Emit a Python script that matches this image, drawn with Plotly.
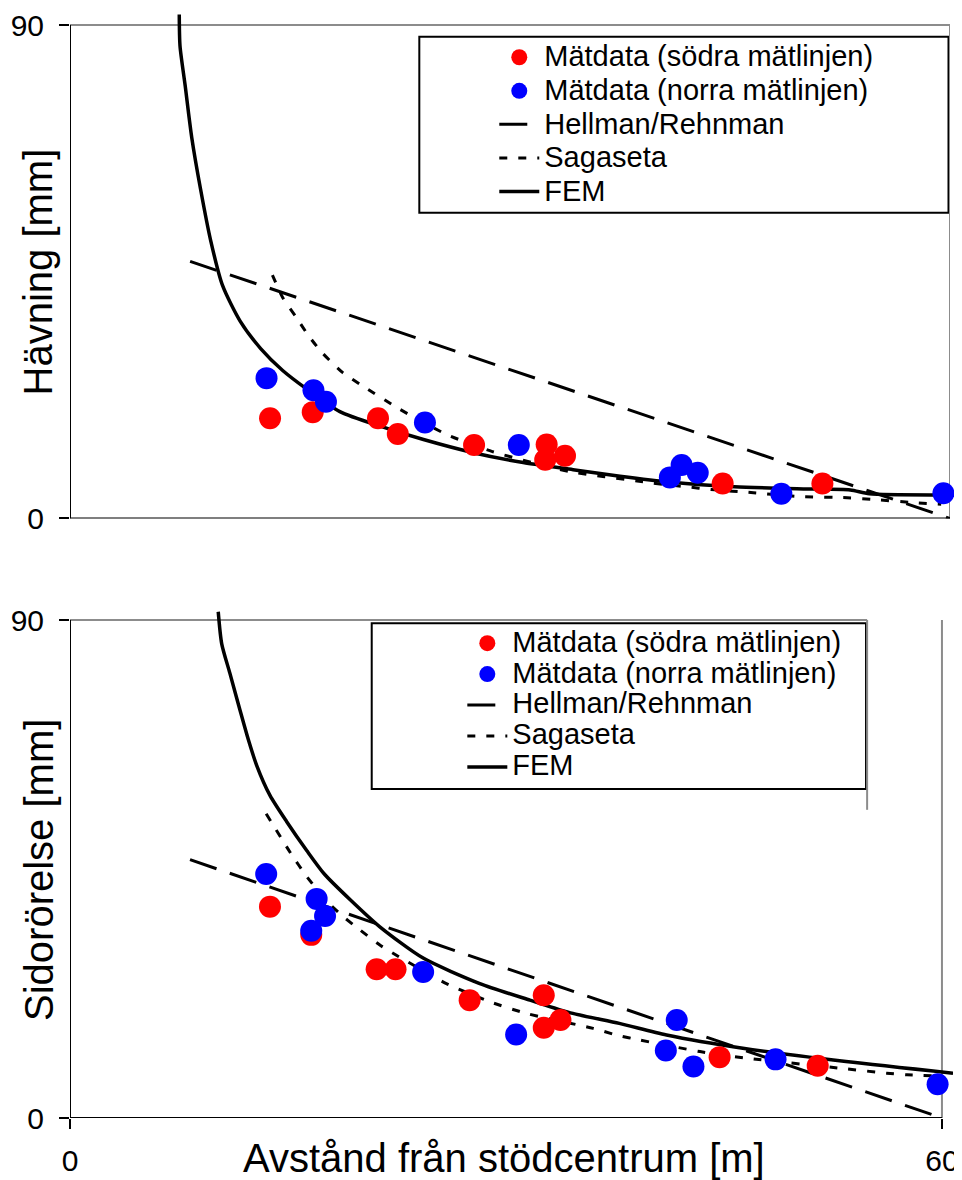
import plotly.graph_objects as go

FONT = "Liberation Sans, Arial, sans-serif"

# ---------------- Top panel: Hävning ----------------
top_red_x = [13.64, 16.55, 21.0, 22.35, 27.55, 32.5, 32.4, 33.75, 44.5, 51.3]
top_red_y = [18.3, 19.4, 18.3, 15.4, 13.4, 13.5, 10.7, 11.45, 6.4, 6.4]
top_blue_x = [13.4, 16.6, 17.45, 24.2, 30.6, 40.9, 41.7, 42.8, 48.5, 59.55]
top_blue_y = [25.6, 23.4, 21.3, 17.5, 13.4, 7.5, 9.75, 8.35, 4.5, 4.6]
top_hellman_x = [8.19, 60.0]
top_hellman_y = [46.9, 0.0]
top_sagaseta_x = [13.8, 14.5, 15.4, 16.3, 17.2, 18.6, 20.0, 22.5, 25.7, 28.8, 34.0,
                  39.1, 40.5, 42.0, 43.7, 46.6, 49.8, 53.0, 54.6, 57.5, 59.4]
top_sagaseta_y = [44.4, 40.3, 36.8, 33.2, 30.2, 26.6, 24.1, 19.9, 15.3, 12.2, 8.6,
                  6.7, 6.2, 5.8, 5.3, 4.7, 4.0, 3.8, 3.5, 2.9, 2.6]
top_fem_x = [7.45, 7.5, 7.85, 8.3, 8.9, 9.6, 10.4, 11.6, 13.0, 14.5, 16.2, 18.4, 21.2, 24.1,
             27.5, 30.9, 34.3, 37.5, 41.0, 45.3, 50.0, 53.2, 54.5, 60.0]
top_fem_y = [91.9, 86.2, 79.0, 69.5, 60.1, 50.6, 42.5, 36.0, 31.0, 27.0, 23.5, 19.5, 16.8, 14.4,
             12.0, 10.2, 8.9, 7.7, 6.6, 5.8, 5.4, 5.2, 4.5, 4.3]

# ---------------- Bottom panel: Sidorörelse ----------------
bot_red_x = [13.76, 16.6, 21.1, 22.4, 27.5, 32.6, 32.6, 33.75, 44.7, 51.45]
bot_red_y = [38.2, 33.1, 26.9, 26.9, 21.3, 22.2, 16.3, 17.7, 11.0, 9.45]
bot_blue_x = [13.5, 16.97, 17.55, 16.6, 24.3, 30.7, 41.0, 41.75, 42.9, 48.55, 59.7]
bot_blue_y = [44.1, 39.6, 36.5, 33.85, 26.4, 15.1, 12.2, 17.7, 9.3, 10.6, 6.1]
bot_hellman_x = [8.26, 59.4]
bot_hellman_y = [46.7, 0.54]
bot_sagaseta_x = [13.5, 15.2, 16.3, 17.7, 18.8, 19.95, 21.3, 22.6, 25.9, 28.9, 31.4, 36.0,
                  37.6, 39.2, 43.35, 46.6, 53.0, 56.2, 57.6, 60.0]
bot_sagaseta_y = [55.0, 47.8, 43.6, 39.1, 36.4, 34.0, 31.3, 29.2, 24.3, 21.0, 18.9, 16.2,
                  15.0, 14.1, 12.0, 10.8, 9.0, 8.1, 7.8, 7.6]
bot_fem_x = [10.2, 10.44, 11.0, 11.7, 12.27, 12.85, 13.76, 14.9, 16.3, 17.5, 19.3, 21.3,
             24.3, 28.2, 31.65, 34.6, 37.8, 41.05, 46.3, 53.4, 60.76]
bot_fem_y = [91.5, 85.7, 80.4, 73.7, 68.4, 63.7, 58.3, 53.6, 48.3, 44.1, 39.4, 34.6,
             28.9, 24.3, 21.3, 18.9, 17.1, 15.0, 12.6, 10.2, 8.1]

names = ["Mätdata (södra mätlinjen)", "Mätdata (norra mätlinjen)",
         "Hellman/Rehnman", "Sagaseta", "FEM"]
y_titles = ["Hävning [mm]", "Sidorörelse [mm]"]
x_title = "Avstånd från stödcentrum [m]"
y_ticks = [0, 90]
x_ticks = [0, 60]


def leg(name):
    return "<span style='font-size:29px'>" + name + "</span>"


fig = go.Figure()

panels = [
    dict(xa="x", ya="y", lg="legend",
         red=(top_red_x, top_red_y), blue=(top_blue_x, top_blue_y),
         hel=(top_hellman_x, top_hellman_y), sag=(top_sagaseta_x, top_sagaseta_y),
         fem=(top_fem_x, top_fem_y)),
    dict(xa="x2", ya="y2", lg="legend2",
         red=(bot_red_x, bot_red_y), blue=(bot_blue_x, bot_blue_y),
         hel=(bot_hellman_x, bot_hellman_y), sag=(bot_sagaseta_x, bot_sagaseta_y),
         fem=(bot_fem_x, bot_fem_y)),
]

for p in panels:
    common = dict(xaxis=p["xa"], yaxis=p["ya"], legend=p["lg"], hoverinfo="skip")
    fig.add_trace(go.Scatter(x=p["hel"][0], y=p["hel"][1], mode="lines", name=leg(names[2]),
                             line=dict(color="black", width=3, dash="28px,14px"),
                             legendrank=3, **common))
    fig.add_trace(go.Scatter(x=p["sag"][0], y=p["sag"][1], mode="lines", name=leg(names[3]),
                             line=dict(color="black", width=3, dash="8px,11px",
                                       shape="spline", smoothing=0.6),
                             legendrank=4, **common))
    fig.add_trace(go.Scatter(x=p["fem"][0], y=p["fem"][1], mode="lines", name=leg(names[4]),
                             line=dict(color="black", width=3.5, shape="spline", smoothing=0.7),
                             legendrank=5, **common))
    fig.add_trace(go.Scatter(x=p["red"][0], y=p["red"][1], mode="markers", name=leg(names[0]),
                             marker=dict(color="#FF0000", size=22, line=dict(width=0)),
                             cliponaxis=False, legendrank=1, **common))
    fig.add_trace(go.Scatter(x=p["blue"][0], y=p["blue"][1], mode="markers", name=leg(names[1]),
                             marker=dict(color="#0000FF", size=22, line=dict(width=0)),
                             cliponaxis=False, legendrank=2, **common))

GREY = "#8c8c8c"
shapes = []
# top panel frame
shapes += [
    dict(type="line", xref="x", yref="y", x0=0, x1=60, y0=90, y1=90, line=dict(color=GREY, width=2), layer="below"),
    dict(type="line", xref="x", yref="y", x0=60, x1=60, y0=0, y1=90, line=dict(color=GREY, width=2), layer="below"),
    dict(type="line", xref="x", yref="y", x0=0, x1=0, y0=0, y1=90, line=dict(color="black", width=2), layer="below"),
    dict(type="line", xref="x", yref="y", x0=0, x1=60, y0=0, y1=0, line=dict(color="black", width=2), layer="below"),
]
# bottom panel frame
shapes += [
    dict(type="line", xref="x2", yref="y2", x0=0, x1=54.85, y0=90, y1=90, line=dict(color=GREY, width=2), layer="below"),
    dict(type="line", xref="x2", yref="y2", x0=54.85, x1=54.85, y0=55.7, y1=90, line=dict(color=GREY, width=2), layer="below"),
    dict(type="line", xref="x2", yref="y2", x0=60, x1=60, y0=0, y1=90, line=dict(color=GREY, width=2), layer="below"),
    dict(type="line", xref="x2", yref="y2", x0=0, x1=0, y0=0, y1=90, line=dict(color="black", width=2), layer="below"),
    dict(type="line", xref="x2", yref="y2", x0=0, x1=60, y0=0, y1=0, line=dict(color="black", width=2), layer="below"),
]
# legend boxes
shapes += [
    dict(type="rect", xref="paper", yref="paper", x0=0.3956, x1=0.9949, y0=0.81559, y1=0.97414,
         line=dict(color="black", width=2), fillcolor="white", layer="below"),
    dict(type="rect", xref="paper", yref="paper", x0=0.3417, x1=0.9015, y0=0.29640, y1=0.44568,
         line=dict(color="black", width=2), fillcolor="white", layer="below"),
]

annotations = [
    dict(text=y_titles[0], x=-0.0357, y=0.76216, xref="paper", yref="paper", showarrow=False,
         textangle=-90, xanchor="center", yanchor="middle", font=dict(size=40, family=FONT, color="black")),
    dict(text=y_titles[1], x=-0.0357, y=0.22387, xref="paper", yref="paper", showarrow=False,
         textangle=-90, xanchor="center", yanchor="middle", font=dict(size=40, family=FONT, color="black")),
    dict(text=x_title, x=0.4915, y=-0.036, xref="paper", yref="paper", showarrow=False,
         xanchor="center", yanchor="middle", font=dict(size=40, family=FONT, color="black")),
]

yax = dict(range=[0, 92.5], tickvals=y_ticks, ticks="outside", ticklen=10, tickwidth=2,
           tickcolor="black", showline=False, showgrid=False, zeroline=False,
           ticklabelstandoff=9, ticklabeloverflow="allow",
           tickfont=dict(size=30, family=FONT, color="black"), fixedrange=True)

fig.update_layout(
    width=954, height=1172,
    margin=dict(l=62, r=9, t=0, b=62, autoexpand=False),
    plot_bgcolor="white", paper_bgcolor="white",
    font=dict(family=FONT, size=30, color="black"),
    showlegend=True,
    legend=dict(x=0.4805, y=0.97523, xanchor="left", yanchor="top", bgcolor="rgba(0,0,0,0)",
                borderwidth=0, font=dict(size=23.5, family=FONT, color="black"),
                itemwidth=40, tracegroupgap=0, traceorder="normal"),
    legend2=dict(x=0.4443, y=0.44622, xanchor="left", yanchor="top", bgcolor="rgba(0,0,0,0)",
                 borderwidth=0, font=dict(size=21.5, family=FONT, color="black"),
                 itemwidth=40, tracegroupgap=0, traceorder="normal"),
    xaxis=dict(domain=[0, 880 / 883], range=[0, 60], showticklabels=False, ticks="",
               showline=False, showgrid=False, zeroline=False, anchor="y", fixedrange=True),
    yaxis=dict(domain=[0.54009, 0.99701], anchor="x", **yax),
    xaxis2=dict(domain=[0, 1], range=[0, 60.76], tickvals=x_ticks, ticks="outside", ticklen=10,
                tickwidth=2, tickcolor="black", showline=False, showgrid=False, zeroline=False,
                ticklabelstandoff=6, ticklabeloverflow="allow",
                tickfont=dict(size=30, family=FONT, color="black"),
                anchor="y2", fixedrange=True),
    yaxis2=dict(domain=[0, 0.46108], anchor="x2", **yax),
    shapes=shapes,
    annotations=annotations,
)

fig.write_html("out.html")
